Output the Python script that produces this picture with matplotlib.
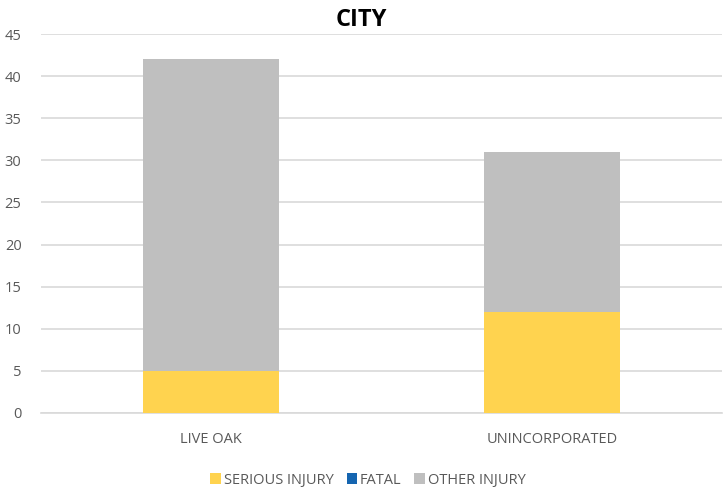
import matplotlib.pyplot as plt
import numpy as np

plt.rcParams['font.family'] = ['Open Sans', 'DejaVu Sans']

cities = ["LIVE OAK", "UNINCORPORATED"]
serious = [5, 12]
fatal = [0, 0]
other = [37, 19]

fig = plt.figure(figsize=(7.23, 4.91), dpi=100)
ax = fig.add_axes([41 / 723, 1 - 413 / 491, 681 / 723, 379 / 491])

x = np.arange(len(cities))
w = 0.4
ax.bar(x, serious, w, color="#FFD34F", label="SERIOUS INJURY", zorder=3)
ax.bar(x, fatal, w, bottom=serious, color="#1565B0", label="FATAL", zorder=3)
ax.bar(x, other, w, bottom=np.add(serious, fatal), color="#BFBFBF",
       label="OTHER INJURY", zorder=3)

ax.set_xlim(-0.5, 1.5)
ax.set_ylim(0, 45)
ax.set_yticks(range(0, 46, 5))
ax.set_xticks(x)
ax.set_xticklabels(cities)
ax.grid(axis="y", color="#D9D9D9", linewidth=1.2, zorder=0)
for s in ["top", "right", "left"]:
    ax.spines[s].set_visible(False)
ax.spines["bottom"].set_color("#D9D9D9")
ax.spines["bottom"].set_linewidth(1.2)
ax.tick_params(length=0, colors="#595959", labelsize=10.5)
ax.tick_params(axis="x", pad=14)
ax.tick_params(axis="y", pad=14)

fig.text(0.5, 1 - 20 / 491, "CITY", ha="center", va="center",
         fontsize=17, fontweight="bold", color="black")

ax.legend(loc="center", bbox_to_anchor=(0.48, -0.177), ncol=3, frameon=False,
          fontsize=10.5, handlelength=0.7, handleheight=0.7, handletextpad=0.2,
          columnspacing=0.9, labelcolor="#595959")

fig.savefig("out.png", dpi=100)
